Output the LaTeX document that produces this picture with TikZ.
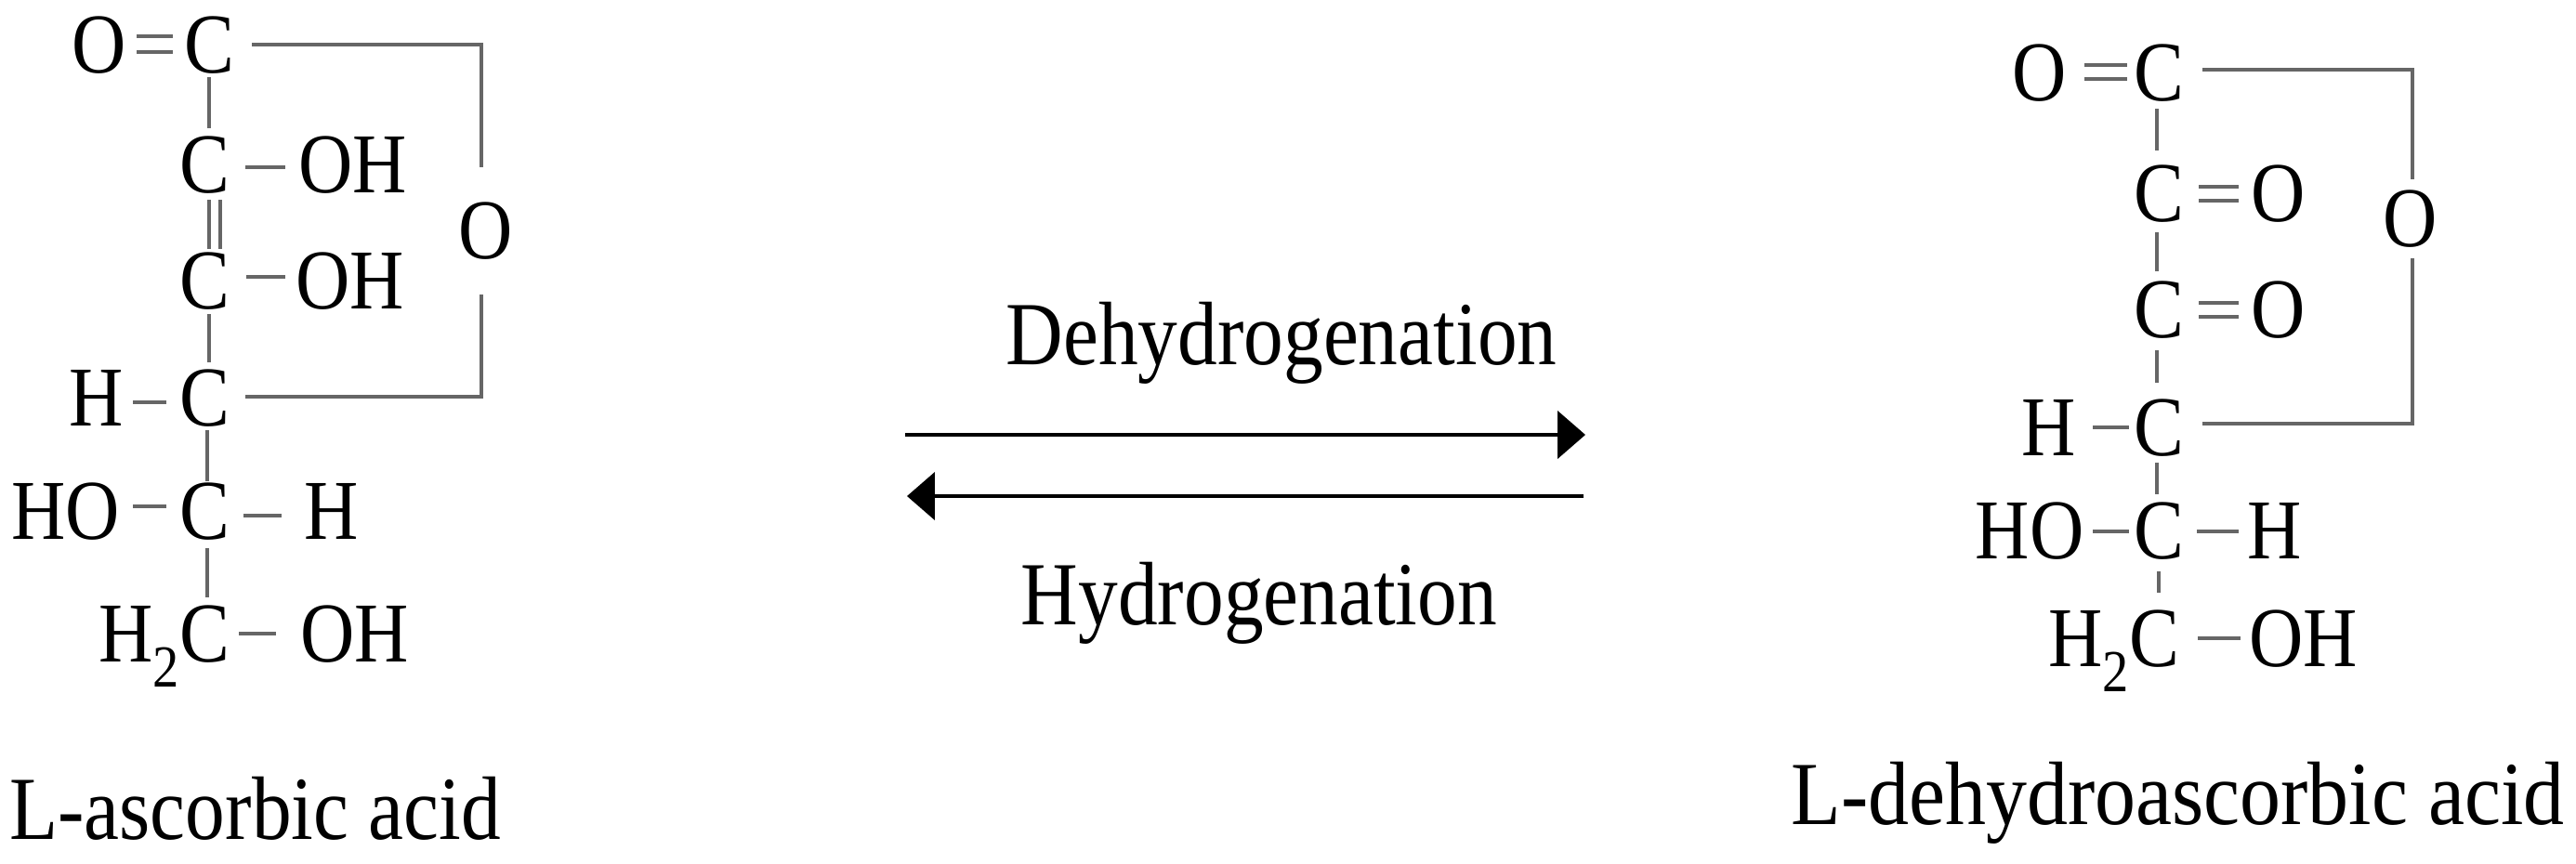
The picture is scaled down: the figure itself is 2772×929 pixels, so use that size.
\documentclass[tikz,border=0pt]{standalone}
\usepackage{fontspec}
\setmainfont{Liberation Serif}
\usetikzlibrary{arrows.meta}
\begin{document}
\begin{tikzpicture}[x=0.567pt,y=-0.567pt,
  chem/.style={inner sep=0pt,anchor=base,xscale=0.88,font=\fontsize{52}{60}\selectfont},
  lab/.style={inner sep=0pt,anchor=base west,xscale=0.88,font=\fontsize{55}{64}\selectfont},
  bond/.style={draw=black!60,line width=1.9pt},
  ring/.style={draw=black!60,line width=1.9pt},
  rxn/.style={draw=black,line width=2.3pt,-{Triangle[length=17pt,width=29pt]}}]
\useasboundingbox (0,0) rectangle (2772,929);
% ---------- left molecule ----------
\node[chem] (lo1) at (107,78) {O};
\node[chem] (lc1) at (225,78) {C};
\node[chem] (lc2) at (220,207) {C};
\node[chem] (loh2) at (380,207) {OH};
\node[chem] (lc3) at (220,332) {C};
\node[chem] (loh3) at (377,332) {OH};
\node[chem] (lh4) at (104,458) {H};
\node[chem] (lc4) at (220,458) {C};
\node[chem] (lho5) at (71,580) {HO};
\node[chem] (lc5) at (220,580) {C};
\node[chem] (lh5) at (357,580) {H};
\node[chem,anchor=base east] (lh2c) at (248,712) {H\textsubscript{2}C};
\node[chem,anchor=base west] (loh6) at (323,712) {OH};
\node[chem] (lor) at (523,278) {O};
\node[lab] (lname) at (10,903) {L-ascorbic acid};
\draw[bond] (147,39) -- (186,39) (147,56) -- (186,56);
\draw[bond] (225,83) -- (225,138);
\draw[bond] (264,180) -- (307,180);
\draw[bond] (225,215) -- (225,268) (237,215) -- (237,268);
\draw[bond] (265,298) -- (307,298);
\draw[bond] (225,338) -- (225,390);
\draw[bond] (143,433) -- (179,433);
\draw[bond] (223,463) -- (223,518);
\draw[bond] (143,545) -- (179,545);
\draw[bond] (262,555) -- (303,555);
\draw[bond] (223,590) -- (223,643);
\draw[bond] (257,682) -- (297,682);
\draw[ring] (271,48) -- (518,48) -- (518,180);
\draw[ring] (518,317) -- (518,427) -- (264,427);
% ---------- arrows ----------
\node[lab,anchor=base] (dehyd) at (1379,392) {Dehydrogenation};
\node[lab,anchor=base] (hyd) at (1355,672) {Hydrogenation};
\coordinate (a1s) at (974,468); \coordinate (a1e) at (1706,468);
\coordinate (a2s) at (1704,534); \coordinate (a2e) at (976,534);
\draw[rxn] (a1s) -- (a1e);
\draw[rxn] (a2s) -- (a2e);
% ---------- right molecule ----------
\node[chem] (ro1) at (2195,108) {O};
\node[chem] (rc1) at (2323,108) {C};
\node[chem] (rc2) at (2323,238) {C};
\node[chem] (ro2) at (2452,238) {O};
\node[chem] (rc3) at (2323,363) {C};
\node[chem] (ro3) at (2452,363) {O};
\node[chem] (rh4) at (2205,490) {H};
\node[chem] (rc4) at (2323,490) {C};
\node[chem] (rho5) at (2184,601) {HO};
\node[chem] (rc5) at (2323,601) {C};
\node[chem] (rh5) at (2448,601) {H};
\node[chem,anchor=base east] (rh2c) at (2346,717) {H\textsubscript{2}C};
\node[chem,anchor=base west] (roh6) at (2420,717) {OH};
\node[chem] (ror) at (2594,265) {O};
\node[lab,xscale=1.03] (rname) at (1927,887) {L-dehydroascorbic acid};
\draw[bond] (2243,70) -- (2289,70) (2243,85) -- (2289,85);
\draw[bond] (2321,117) -- (2321,162);
\draw[bond] (2366,201) -- (2409,201) (2366,216) -- (2409,216);
\draw[bond] (2321,250) -- (2321,292);
\draw[bond] (2366,326) -- (2409,326) (2366,341) -- (2409,341);
\draw[bond] (2321,377) -- (2321,412);
\draw[bond] (2252,460) -- (2291,460);
\draw[bond] (2321,498) -- (2321,532);
\draw[bond] (2252,572) -- (2291,572);
\draw[bond] (2364,572) -- (2409,572);
\draw[bond] (2323,615) -- (2323,638);
\draw[bond] (2365,687) -- (2411,687);
\draw[ring] (2370,75) -- (2596,75) -- (2596,193);
\draw[ring] (2596,278) -- (2596,456) -- (2370,456);
\end{tikzpicture}
\end{document}
